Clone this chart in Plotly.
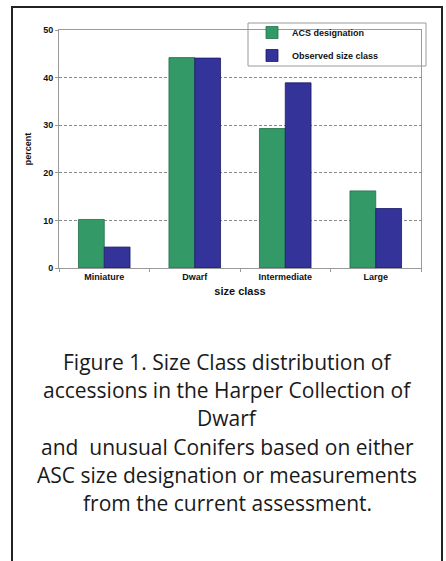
import plotly.graph_objects as go

categories = ["Miniature", "Dwarf", "Intermediate", "Large"]
acs_designation = [10.2, 44.2, 29.3, 16.2]
observed_size_class = [4.4, 44.1, 38.9, 12.5]
y_ticks = [0, 10, 20, 30, 40, 50]
caption_lines = [
    "Figure 1. Size Class distribution of",
    "accessions in the Harper Collection of",
    "Dwarf",
    "and  unusual Conifers based on either",
    "ASC size designation or measurements",
    "from the current assessment.",
]

W, H = 446, 561
PL, PR, PT, PB = 59, 421, 30, 268  # plot area in pixels


def px(x):
    return (x - PL) / (PR - PL)


def py(y):
    return (PB - y) / (PB - PT)


fig = go.Figure()
fig.add_trace(go.Bar(
    x=categories, y=acs_designation, name="<b>ACS designation</b>",
    marker=dict(color="#339966", line=dict(color="#1f6e47", width=0.8)),
    legendgroup="a",
))
fig.add_trace(go.Bar(
    x=categories, y=observed_size_class, name="<b>Observed size class</b>",
    marker=dict(color="#333399", line=dict(color="#1a1a66", width=0.8)),
    legendgroup="b",
))

axis_font = dict(family="Arial, Liberation Sans", size=9, color="#111")

fig.update_layout(
    width=W, height=H,
    margin=dict(l=PL, r=W - PR, t=PT, b=H - PB, pad=0),
    paper_bgcolor="white", plot_bgcolor="white",
    barmode="group", bargap=0.43, bargroupgap=0,
    showlegend=True,
    legend=dict(
        x=px(252), y=py(18), xanchor="left", yanchor="top",
        bgcolor="rgba(0,0,0,0)", borderwidth=0,
        font=dict(family="Arial, Liberation Sans", size=9, color="#111"),
        tracegroupgap=4, itemwidth=30,
    ),
    xaxis=dict(
        type="category",
        showline=True, linecolor="#9a9a9a", linewidth=1, mirror=True,
        ticks="outside", ticklen=3, tickcolor="#9a9a9a", tickson="boundaries",
        tickfont=axis_font,
        ticktext=["<b>%s</b>" % c for c in categories], tickvals=categories,
        title=dict(text="<b>size class</b>", font=dict(family="Arial, Liberation Sans", size=11, color="#111"), standoff=6),
        showgrid=False,
    ),
    yaxis=dict(
        range=[0, 50], tickvals=y_ticks,
        ticktext=["<b>%d</b>" % v for v in y_ticks],
        tickfont=axis_font,
        showline=True, linecolor="#9a9a9a", linewidth=1, mirror=True,
        ticks="outside", ticklen=3, tickcolor="#9a9a9a",
        showgrid=True, gridcolor="#8a8a8a", griddash="3px,2px", gridwidth=1,
        zeroline=False,
        title=dict(text="<b>percent</b>", font=dict(family="Arial, Liberation Sans", size=9, color="#111"), standoff=10),
    ),
)

shapes = []
# legend frame
shapes.append(dict(type="rect", xref="paper", yref="paper",
                   x0=px(248), x1=px(426), y0=py(66), y1=py(23),
                   line=dict(color="#9a9a9a", width=1), fillcolor="white", layer="below"))
# outer frame (open at bottom)
shapes.append(dict(type="path", xref="paper", yref="paper",
                   path="M %f %f L %f %f L %f %f L %f %f" % (
                       px(12), py(570), px(12), py(7), px(442), py(7), px(442), py(570)),
                   line=dict(color="#222", width=2)))
fig.update_layout(shapes=shapes)

line_y = [362, 390, 418, 447, 475, 503]
for t, yy in zip(caption_lines, line_y):
    fig.add_annotation(
        text=t, x=px(227), y=py(yy), xref="paper", yref="paper",
        xanchor="center", yanchor="middle", showarrow=False,
        font=dict(family="Open Sans", size=21, color="#1a1a1a"),
    )

fig.write_html("out.html", config={"displayModeBar": False},
               post_script="document.body.style.margin='0';")
